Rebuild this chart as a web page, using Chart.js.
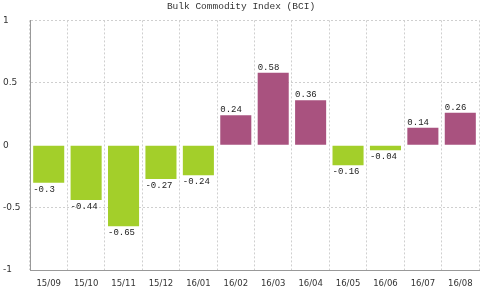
<!DOCTYPE html>
<html>
<head>
<meta charset="utf-8">
<script src="https://cdn.jsdelivr.net/npm/chart.js@4/dist/chart.umd.min.js"></script>
<style>
  html, body { margin: 0; padding: 0; background: #fff; }
  #wrap { width: 486px; height: 294px; }
</style>
</head>
<body>
<div id="wrap"><canvas id="myChart" width="486" height="294"></canvas></div>
<script>
var months = ['15/09', '15/10', '15/11', '15/12', '16/01', '16/02', '16/03', '16/04', '16/05', '16/06', '16/07', '16/08'];
var bciValues = [-0.3, -0.44, -0.65, -0.27, -0.24, 0.24, 0.58, 0.36, -0.16, -0.04, 0.14, 0.26];
var yTicks = [-1, -0.5, 0, 0.5, 1];

var GREEN = '#a3cf2a';
var PURPLE = '#a9527f';
var barColors = bciValues.map(function(v){ return v < 0 ? GREEN : PURPLE; });

// labels written at the left edge of each bar, above or below it
var valueLabels = {
    id: 'valueLabels',
    afterDatasetsDraw: function(chart){
        var ctx = chart.ctx;
        var meta = chart.getDatasetMeta(0);
        ctx.save();
        ctx.font = '9px "Liberation Mono", "DejaVu Sans Mono", monospace';
        ctx.fillStyle = '#222';
        ctx.textAlign = 'left';
        meta.data.forEach(function(bar, i){
            var v = bciValues[i];
            var x = bar.x - bar.width / 2;
            if (v >= 0) {
                ctx.textBaseline = 'bottom';
                ctx.fillText(String(v), x, bar.y - 1);
            } else {
                ctx.textBaseline = 'top';
                ctx.fillText(String(v), x, bar.y + 2);
            }
        });
        ctx.restore();
    }
};

var ctx = document.getElementById('myChart').getContext('2d');
var myChart = new Chart(ctx, {
    type: 'bar',
    data: {
        labels: months,
        datasets: [{
            data: bciValues,
            backgroundColor: barColors,
            borderWidth: 0,
            barPercentage: 0.83,
            categoryPercentage: 1
        }]
    },
    options: {
        responsive: false,
        animation: false,
        layout: { padding: { left: 3, right: 7, top: 0, bottom: 0 } },
        plugins: {
            legend: { display: false },
            tooltip: { enabled: false },
            title: {
                display: true,
                text: 'Bulk Commodity Index (BCI)',
                color: '#333',
                font: { family: '"Liberation Mono", "DejaVu Sans Mono", monospace', size: 9.5, weight: 'normal' },
                padding: { top: 1, bottom: 8 }
            }
        },
        scales: {
            x: {
                grid: { color: '#cfcfcf', drawTicks: false, offset: true },
                border: { color: '#999', width: 1, dash: [2, 2] },
                ticks: {
                    color: '#333',
                    font: { family: 'Verdana, "DejaVu Sans", sans-serif', size: 8.5 },
                    padding: 9,
                    maxRotation: 0,
                    autoSkip: false
                },
                afterFit: function(scale){ scale.height = 24; }
            },
            y: {
                min: -1,
                max: 1,
                afterBuildTicks: function(scale){
                    scale.ticks = yTicks.map(function(v){ return { value: v }; });
                },
                grid: {
                    drawTicks: false,
                    color: function(c){ return c.tick && c.tick.value === 0 ? 'rgba(0,0,0,0)' : '#cfcfcf'; }
                },
                border: { color: '#999', width: 1, dash: [2, 2] },
                ticks: {
                    color: '#333',
                    crossAlign: 'far',
                    font: { family: 'Verdana, "DejaVu Sans", sans-serif', size: 9 },
                    callback: function(v){ return String(v); }
                },
                afterFit: function(scale){ scale.width = 27; }
            }
        }
    },
    plugins: [valueLabels]
});
</script>
</body>
</html>
